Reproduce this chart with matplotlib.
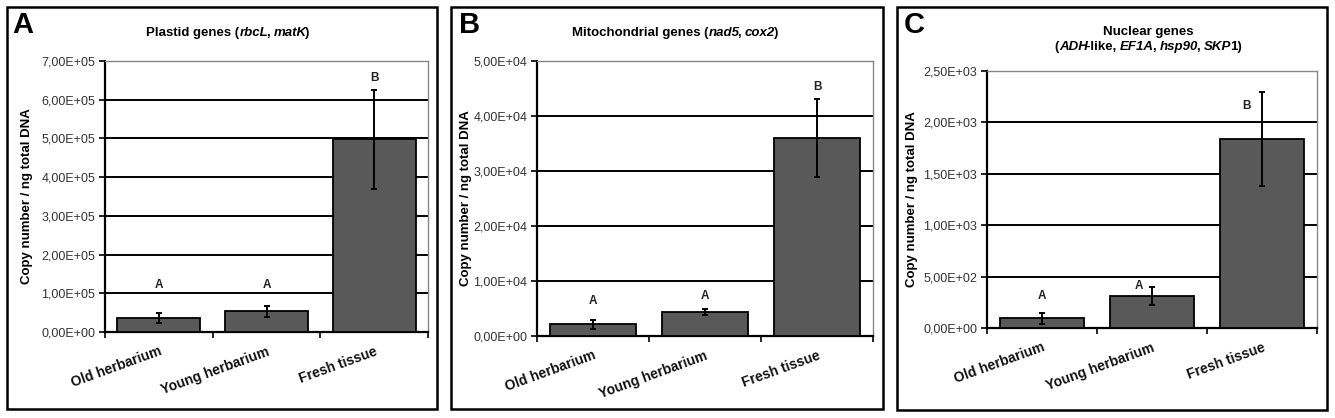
import matplotlib
matplotlib.use("Agg")
import matplotlib.pyplot as plt
from matplotlib.patches import Rectangle
from matplotlib.ticker import FixedLocator, FuncFormatter

plt.rcParams['font.family'] = ['Liberation Sans', 'DejaVu Sans']

categories = ["Old herbarium", "Young herbarium", "Fresh tissue"]

plastid_vals = [3.6e4, 5.3e4, 4.98e5]
plastid_err = [1.3e4, 1.3e4, 1.28e5]
plastid_letters = ["A", "A", "B"]
plastid_letter_y = [1.22e5, 1.22e5, 6.55e5]
plastid_ticks = [0, 1e5, 2e5, 3e5, 4e5, 5e5, 6e5, 7e5]

mito_vals = [2.1e3, 4.4e3, 3.6e4]
mito_err = [7.5e2, 5e2, 7.1e3]
mito_letters = ["A", "A", "B"]
mito_letter_y = [6.4e3, 7.3e3, 4.53e4]
mito_ticks = [0, 1e4, 2e4, 3e4, 4e4, 5e4]

nuc_vals = [95, 311, 1838]
nuc_err = [55, 83, 455]
nuc_letters = ["A", "A", "B"]
nuc_letter_y = [311, 408, 2155]
nuc_ticks = [0, 500, 1000, 1500, 2000, 2500]

W, H = 1335, 418
fig = plt.figure(figsize=(W / 100, H / 100), dpi=100)
fig.patch.set_facecolor("white")


def fx(px):
    return px / W


def fy(py):
    return 1 - py / H


def sci_fmt(v, pos):
    if v == 0:
        return "0,00E+00"
    s = "%.2E" % v
    return s.replace(".", ",")


def make_panel(ax_rect, box_rect, letter, letter_xy, ylabel_x, vals, errs, letters, letter_y,
               ticks, letter_dx=(0, 0, 0)):
    x0, y0, x1, y1 = box_rect
    fig.add_artist(Rectangle((fx(x0), fy(y1)), fx(x1) - fx(x0), fy(y0) - fy(y1),
                             transform=fig.transFigure, fill=False, edgecolor="black",
                             linewidth=1.8, zorder=10))
    fig.text(fx(letter_xy[0]), fy(letter_xy[1]), letter, fontsize=21, fontweight="bold",
             ha="left", va="center")
    l, t, r, b = ax_rect
    ax = fig.add_axes([fx(l), fy(b), fx(r) - fx(l), fy(t) - fy(b)])
    xs = list(range(len(vals)))
    ax.bar(xs, vals, width=0.77, color="#595959", edgecolor="black", linewidth=1.3, zorder=3)
    ax.errorbar(xs, vals, yerr=errs, fmt="none", ecolor="black", elinewidth=1.4,
                capsize=2.5, capthick=1.4, zorder=4)
    for x, dx, lt, ly in zip(xs, letter_dx, letters, letter_y):
        ax.text(x + dx, ly, lt, ha="center", va="center", fontsize=8.5, fontweight="bold",
                color="#222222", zorder=5)
    ax.set_xlim(-0.5, len(vals) - 0.5)
    ax.set_ylim(ticks[0], ticks[-1])
    ax.yaxis.set_major_locator(FixedLocator(ticks))
    ax.yaxis.set_major_formatter(FuncFormatter(sci_fmt))
    for tv in ticks[1:-1]:
        ax.axhline(tv, color="black", linewidth=1.4, zorder=1)
    ax.axhline(ticks[-1], color="#555555", linewidth=1.2, zorder=1)
    ax.set_xticks(xs)
    ax.set_xticklabels(categories, rotation=20, ha="right", rotation_mode="anchor",
                       fontsize=10, fontweight="bold", color="#111111")
    ax.tick_params(axis="x", length=0, pad=9)
    ax.set_xticks([i + 0.5 for i in range(-1, len(vals))], minor=True)
    ax.tick_params(axis="x", which="minor", length=4, width=1.2, color="black", direction="out")
    ax.tick_params(axis="y", length=4, width=1.2, color="black", direction="out",
                   labelsize=9, labelcolor="#333333", pad=3)
    ax.spines["left"].set_linewidth(1.6)
    ax.spines["bottom"].set_linewidth(1.6)
    ax.spines["top"].set_color("#888888")
    ax.spines["right"].set_color("#888888")
    ax.spines["top"].set_linewidth(1.0)
    ax.spines["right"].set_linewidth(1.0)
    ax.set_ylabel("Copy number / ng total DNA", fontsize=9.5, fontweight="bold",
                  va="center")
    ax.yaxis.set_label_coords(fx(ylabel_x), fy((t + b) / 2), transform=fig.transFigure)
    return ax


def place_rich(cx, cy, segments, fontsize=9.5):
    fig.canvas.draw()
    r = fig.canvas.get_renderer()
    widths = []
    for s, it in segments:
        t = fig.text(0, 0, s, fontsize=fontsize, fontweight="bold",
                     fontstyle="italic" if it else "normal")
        bb = t.get_window_extent(renderer=r)
        w = bb.width - (1.5 if it else 0)
        widths.append(w)
        t.remove()
    total = sum(widths)
    x = cx - total / 2
    for (s, it), w in zip(segments, widths):
        fig.text(fx(x), fy(cy), s, fontsize=fontsize, fontweight="bold",
                 fontstyle="italic" if it else "normal", ha="left", va="center")
        x += w


make_panel((105, 61, 428, 332), (7, 7, 437, 409), "A", (12, 25), 27,
           plastid_vals, plastid_err, plastid_letters, plastid_letter_y, plastid_ticks)
make_panel((537, 61, 873, 336), (451, 7, 883, 409), "B", (459, 25), 466,
           mito_vals, mito_err, mito_letters, mito_letter_y, mito_ticks)
make_panel((987, 71, 1317, 328), (897, 7, 1327, 410), "C", (904, 25), 912,
           nuc_vals, nuc_err, nuc_letters, nuc_letter_y, nuc_ticks,
           letter_dx=(0, -0.12, -0.14))

place_rich(228, 33, [("Plastid genes (", False), ("rbcL", True), (", ", False),
                     ("matK", True), (")", False)])
place_rich(675, 33, [("Mitochondrial genes (", False), ("nad5", True), (", ", False),
                     ("cox2", True), (")", False)])
place_rich(1148, 32, [("Nuclear genes", False)])
place_rich(1148, 47, [("(", False), ("ADH", True), ("-like, ", False), ("EF1A", True),
                      (", ", False), ("hsp90", True), (", ", False), ("SKP", True),
                      ("1)", False)])

fig.savefig("out.png", dpi=100)
